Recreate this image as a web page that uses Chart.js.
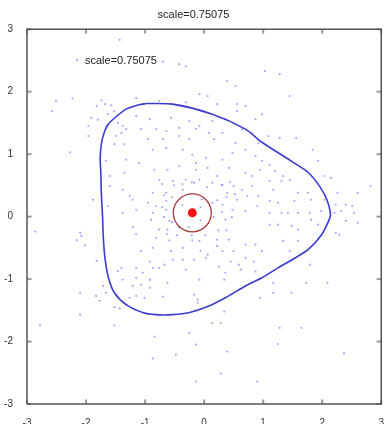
<!DOCTYPE html>
<html>
<head>
<meta charset="utf-8">
<script src="https://cdn.jsdelivr.net/npm/chart.js@4"></script>
<style>
  html, body { margin: 0; padding: 0; background: #fff; overflow: hidden; }
  #wrap { width: 389px; height: 424px; position: relative; }
  canvas { display: block; }
</style>
</head>
<body>
<div id="wrap"><canvas id="chart"></canvas></div>
<script>
// title and legend text
const titleText = "scale=0.75075";
const legendText = "scale=0.75075";
const axisMin = -3;
const axisMax = 3;
const tickValues = [-3, -2, -1, 0, 1, 2, 3];

// sample cloud [x, y]
const samples = [
  [-1.43,2.83],[-2.51,1.85],[-2.23,1.89],[-2.58,1.69],[-1.74,1.86],[-1.82,1.77],[-1.68,1.80],[-1.57,1.78],
  [-1.91,1.58],[-1.80,1.55],[-1.63,1.64],[-1.52,1.69],[-1.96,1.45],[-1.96,1.29],[-1.66,1.45],[-1.46,1.50],
  [-1.38,1.45],[-1.32,1.40],[-1.40,1.34],[-1.49,1.29],[-1.52,1.16],[-1.35,1.16],[-1.15,1.61],[-1.15,1.90],
  [-1.07,1.40],[-2.27,1.03],[-1.66,0.89],[-1.32,0.91],[-1.10,0.86],[-1.60,0.65],[-1.35,0.70],[-1.60,0.49],
  [-1.38,0.43],[-1.26,0.33],[-1.21,0.27],[-1.88,0.27],[-1.63,0.17],[-1.38,0.06],[-1.15,0.11],
  [-0.70,2.48],[-0.42,2.44],[-0.31,2.40],[0.39,2.17],[0.53,2.09],[-0.08,1.96],[0.06,1.93],[0.22,1.80],
  [0.56,1.80],[0.70,1.77],[-0.31,1.83],[-0.76,1.85],[-0.92,1.56],[-0.56,1.58],[-0.25,1.53],[-0.08,1.45],
  [0.14,1.53],[0.36,1.56],[0.56,1.69],[0.87,1.56],[0.98,1.64],[-0.81,1.40],[-0.64,1.37],[-0.42,1.42],
  [-0.14,1.40],[0.08,1.34],[0.31,1.34],[0.64,1.40],[0.81,1.34],[-0.95,1.24],[-0.70,1.24],[-0.42,1.29],
  [-0.25,1.24],[0.17,1.24],[0.53,1.18],[0.70,1.07],[0.92,1.18],[-0.87,1.07],[-0.64,1.10],[-0.36,1.07],
  [-0.20,0.99],[0.03,0.94],[0.31,0.91],[0.48,1.02],[0.87,0.97],[0.98,0.89],[-0.84,0.75],[-0.62,0.75],
  [-0.42,0.81],[-0.14,0.86],[-0.14,0.75],[0.06,0.78],[0.22,0.65],[0.42,0.78],[0.70,0.70],[0.81,0.65],
  [0.95,0.75],[-0.76,0.59],[-0.53,0.57],[-0.31,0.59],[-0.08,0.59],[-0.17,0.54],[0.14,0.54],[0.31,0.51],
  [0.50,0.49],[0.64,0.43],[0.81,0.49],[-0.87,0.38],[-0.64,0.38],[-0.36,0.43],[0.39,0.38],[0.56,0.27],
  [0.73,0.33],[0.92,0.33],[-0.95,0.22],[-0.81,0.17],[-0.64,0.11],[0.14,0.22],[0.31,0.19],[0.48,0.11],
  [0.70,0.09],[0.90,0.17],[-0.64,0.25],[-0.87,0.06],
  [1.03,2.33],[1.28,2.28],[1.45,1.93],[1.09,1.29],[1.28,1.26],[1.56,1.26],[1.84,1.07],[1.93,0.89],
  [1.11,0.83],[1.20,0.73],[1.34,0.65],[1.31,0.57],[1.45,0.59],[1.59,0.38],[1.76,0.38],[2.04,0.65],
  [2.15,0.62],[2.26,0.38],[2.60,0.38],[2.82,0.49],[1.11,0.57],[1.17,0.43],[1.11,0.25],[1.25,0.22],
  [1.53,0.25],[1.81,0.27],[2.04,0.27],[2.23,0.19],[2.40,0.19],[2.51,0.17],[1.11,0.06],[1.31,0.06],
  [1.42,0.06],[1.59,0.06],[1.79,0.06],[1.98,0.09],[2.21,0.06],[2.32,0.09],[2.54,0.06],
  [-2.86,-0.24],[-2.10,-0.26],[-2.08,-0.31],[-2.16,-0.38],[-2.02,-0.46],[-1.82,-0.71],[-2.10,-1.22],[-1.83,-1.27],
  [-1.77,-1.35],[-1.66,-1.22],[-1.71,-1.11],[-1.52,-1.45],[-1.43,-1.47],[-2.10,-1.57],[-2.78,-1.74],[-1.52,-1.74],
  [-1.21,-0.17],[-1.15,-0.28],[-1.07,-0.55],[-1.40,-0.82],[-1.46,-0.87],[-1.38,-1.01],[-1.15,-0.98],[-1.15,-0.82],
  [-1.04,-0.90],[-1.21,-1.11],[-1.07,-1.09],[-1.26,-1.30],[-1.15,-1.27],[-1.01,-1.30],[-1.32,-1.41],
  [-0.76,-0.21],[-0.62,-0.21],[-0.81,-0.34],[-0.59,-0.38],[-0.20,-0.38],[-0.08,-0.39],[0.22,-0.37],[0.42,-0.37],
  [-0.87,-0.50],[-0.56,-0.55],[-0.36,-0.50],[-0.06,-0.55],[0.06,-0.61],[0.22,-0.47],[0.31,-0.55],[0.50,-0.55],
  [0.70,-0.45],[0.87,-0.45],[-0.92,-0.72],[-0.67,-0.77],[-0.53,-0.69],[-0.36,-0.69],[-0.17,-0.69],[0.03,-0.66],
  [0.25,-0.80],[0.45,-0.72],[0.59,-0.77],[0.70,-0.66],[0.84,-0.72],[0.98,-0.55],[-0.87,-0.82],[-0.76,-0.82],
  [-0.31,-0.85],[-0.92,-1.01],[-0.62,-1.06],[-0.08,-1.01],[0.34,-1.01],[0.36,-0.90],[0.62,-0.85],[0.87,-0.88],
  [-0.92,-1.14],[-0.70,-1.28],[-0.17,-1.25],[-0.11,-1.33],[-0.11,-1.38],[0.34,-1.52],[0.14,-1.70],[0.28,-1.70],
  [0.95,-1.30],[-0.84,-1.92],[-0.25,-1.86],[-0.14,-2.05],[-0.87,-2.27],[-0.48,-2.21],[0.39,-2.16],[0.28,-2.51],
  [-0.14,-2.64],[0.90,-2.64],[-0.90,-0.05],[-0.59,-0.07],[0.36,-0.05],
  [1.11,-0.13],[1.25,-0.13],[1.48,-0.15],[1.59,-0.21],[1.81,-0.05],[1.93,-0.13],[2.23,-0.26],[2.29,-0.29],
  [2.40,-0.07],[2.60,-0.10],[1.34,-0.39],[1.45,-0.55],[1.59,-0.39],[1.79,-0.77],[1.73,-1.06],[2.09,-1.06],
  [1.17,-1.06],[1.17,-1.22],[1.48,-1.22],[1.28,-1.78],[1.65,-1.78],[1.25,-2.04],[2.37,-2.19],
  [-0.71,0.52],[-0.51,0.50],[-0.37,0.52],[-0.21,0.55],[0.05,0.47],[0.30,0.50],[0.44,0.55],[-0.68,0.34],
  [-0.54,0.31],[-0.04,0.28],[0.22,0.26],[0.38,0.31],[0.52,0.36],[-0.71,0.15],[-0.68,-0.01],[-0.54,-0.09],
  [-0.43,-0.17],[-0.26,-0.17],[-0.06,-0.06],[0.16,-0.01],[0.30,0.07],[0.47,-0.01],[-0.63,-0.28],[-0.46,-0.30],
  [-0.21,-0.30],[0.02,-0.30],[0.24,-0.22],[0.38,-0.22],[-0.06,0.15],[-0.37,0.18]
];

// closed contour [x, y]
const contour = [
  [-0.98,1.81],[-0.53,1.80],[0.14,1.64],[0.70,1.40],[0.98,1.19],[1.49,0.88],[1.76,0.71],[1.96,0.48],
  [2.08,0.27],[2.14,0.06],[2.13,-0.02],[1.99,-0.29],[1.76,-0.53],[1.49,-0.69],[1.25,-0.82],[0.98,-0.98],
  [0.70,-1.11],[0.36,-1.30],[0.06,-1.44],[-0.26,-1.54],[-0.53,-1.57],[-0.82,-1.57],[-1.03,-1.54],[-1.32,-1.41],
  [-1.52,-1.22],[-1.62,-0.98],[-1.68,-0.66],[-1.71,-0.29],[-1.72,0.00],[-1.74,0.35],[-1.75,0.71],[-1.76,0.96],
  [-1.72,1.26],[-1.63,1.47],[-1.49,1.60],[-1.32,1.72],[-1.10,1.79]
];

// centre estimate
const centreX = [-0.20];
const centreY = [0.06];

const toXY = p => ({ x: p[0], y: p[1] });
const contourData = contour.map(toXY);
contourData.push(contourData[0]);

// axis box as a closed line through the axis limits
const boxData = [
  { x: axisMin, y: axisMin }, { x: axisMax, y: axisMin },
  { x: axisMax, y: axisMax }, { x: axisMin, y: axisMax }, { x: axisMin, y: axisMin }
];

// little images for inward tick marks: a stroke from the centre towards (dx, dy)
function tickImage(dx, dy) {
  const c = document.createElement("canvas");
  c.width = 10; c.height = 10;
  const g = c.getContext("2d");
  g.strokeStyle = "#555555";
  g.lineWidth = 1.2;
  g.beginPath();
  g.moveTo(5, 5);
  g.lineTo(5 + dx * 4.5, 5 + dy * 4.5);
  g.stroke();
  return c;
}

function tickSet(label, points, img) {
  return {
    label: label,
    data: points,
    pointStyle: img,
    pointRadius: 5,
    showLine: false,
    clip: false,
    order: 0
  };
}

// small legend inside the plot, upper left
const legendInPlot = {
  id: "legendInPlot",
  afterDraw(chart) {
    const ctx = chart.ctx;
    const a = chart.chartArea;
    ctx.save();
    ctx.fillStyle = "rgba(110,110,255,0.6)";
    ctx.fillRect(a.left + 49, a.top + 30, 2, 2);
    ctx.fillStyle = "#222";
    ctx.font = "11px 'Liberation Sans', Arial, sans-serif";
    ctx.textBaseline = "middle";
    ctx.fillText(legendText, a.left + 58, a.top + 32);
    ctx.restore();
  }
};

new Chart(document.getElementById("chart"), {
  type: "scatter",
  data: {
    datasets: [
      {
        label: legendText,
        data: samples.map(toXY),
        pointRadius: 1.1,
        pointBorderWidth: 0,
        pointBackgroundColor: "rgba(100,100,255,0.55)",
        order: 4
      },
      {
        label: "contour",
        data: contourData,
        showLine: true,
        tension: 0.25,
        pointRadius: 0,
        borderColor: "#3b3bcf",
        borderWidth: 1.6,
        order: 3
      },
      {
        label: "ring",
        data: centreX.map((x, i) => ({ x: x, y: centreY[i] })),
        pointRadius: 19,
        pointBorderWidth: 1.3,
        pointBorderColor: "#a83a3a",
        pointBackgroundColor: "rgba(0,0,0,0)",
        order: 2
      },
      {
        label: "centre",
        data: centreX.map((x, i) => ({ x: x, y: centreY[i] })),
        pointRadius: 4.5,
        pointBorderWidth: 0,
        pointBackgroundColor: "#ff1010",
        order: 1
      },
      {
        label: "box",
        data: boxData,
        showLine: true,
        tension: 0,
        pointRadius: 0,
        borderColor: "#555555",
        borderWidth: 1.5,
        clip: false,
        order: 0
      },
      tickSet("bottomTicks", tickValues.map(v => ({ x: v, y: axisMin })), tickImage(0, -1)),
      tickSet("topTicks", tickValues.map(v => ({ x: v, y: axisMax })), tickImage(0, 1)),
      tickSet("leftTicks", tickValues.map(v => ({ x: axisMin, y: v })), tickImage(1, 0)),
      tickSet("rightTicks", tickValues.map(v => ({ x: axisMax, y: v })), tickImage(-1, 0))
    ]
  },
  options: {
    responsive: true,
    maintainAspectRatio: false,
    animation: false,
    layout: { padding: { right: 2 }, autoPadding: false },
    plugins: {
      legend: { display: false },
      tooltip: { enabled: false },
      title: {
        display: true,
        text: titleText,
        color: "#222",
        font: { family: "'Liberation Sans', Arial, sans-serif", size: 11, weight: "normal" },
        padding: { top: 8, bottom: 8 }
      }
    },
    scales: {
      x: {
        type: "linear",
        min: axisMin, max: axisMax,
        afterFit(s) { s.height = 20; },
        grid: { display: false },
        border: { display: false },
        ticks: {
          stepSize: 1,
          padding: 5,
          color: "#333",
          font: { family: "'Liberation Sans', Arial, sans-serif", size: 10 }
        }
      },
      y: {
        type: "linear",
        min: axisMin, max: axisMax,
        afterFit(s) { s.width = 27; },
        grid: { display: false },
        border: { display: false },
        ticks: {
          stepSize: 1,
          padding: 6,
          color: "#333",
          font: { family: "'Liberation Sans', Arial, sans-serif", size: 10 }
        }
      }
    }
  },
  plugins: [legendInPlot]
});
</script>
</body>
</html>
